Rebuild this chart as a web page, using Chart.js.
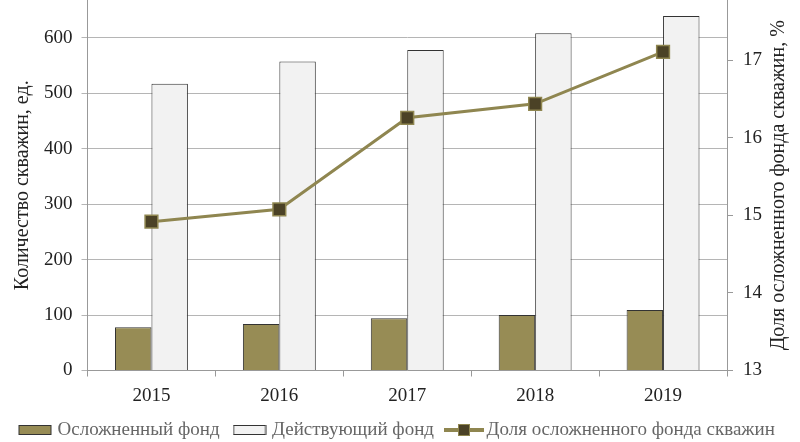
<!DOCTYPE html>
<html>
<head>
<meta charset="utf-8">
<script src="https://cdn.jsdelivr.net/npm/chart.js@4.4.1/dist/chart.umd.min.js"></script>
<style>
body { margin: 0; background: #fff; }
#wrap { width: 800px; height: 442px; }
</style>
</head>
<body>
<div id="wrap"><canvas id="c"></canvas></div>
<script>
var years = ['2015', '2016', '2017', '2018', '2019']
var complicated = [78, 84, 94, 100, 109]
var active = [517, 557, 578, 608, 639]
var share = [14.92, 15.08, 16.26, 16.44, 17.11]
var leftTicks = [0, 100, 200, 300, 400, 500, 600]
var rightTicks = [13, 14, 15, 16, 17]

var olive = '#978c55'
var lineOlive = '#8f8650'
var markDark = '#4b4226'
var txt = '#222'
var serif = '"Liberation Serif", "Times New Roman", serif'
var rightTitleText = 'Доля осложненного фонда скважин, %'

// little pictures for the legend
function icon(kind) {
    var c = document.createElement('canvas')
    c.width = kind == 'line' ? 40 : 34
    c.height = 12
    var g = c.getContext('2d')
    if (kind == 'line') {
        g.strokeStyle = lineOlive
        g.lineWidth = 4
        g.beginPath(); g.moveTo(0, 6); g.lineTo(40, 6); g.stroke()
        g.fillStyle = markDark
        g.fillRect(14.5, 0.5, 11, 11)
        g.lineWidth = 1
        g.strokeRect(14.5, 0.5, 11, 11)
    } else {
        g.fillStyle = kind == 'olive' ? olive : '#f2f2f2'
        g.fillRect(1, 1.5, 32, 9)
        g.strokeStyle = '#333'
        g.lineWidth = 1
        g.strokeRect(1, 1.5, 32, 9)
    }
    return c
}
var icons = [icon('olive'), icon('white'), icon('line')]

// chart.js puts a right title reading downwards, the picture reads upwards
var rightTitle = {
    id: 'rightTitle',
    afterDraw: function(chart) {
        var ctx = chart.ctx
        var s = chart.scales.y1
        ctx.save()
        ctx.translate(s.right - 21, (chart.chartArea.top + chart.chartArea.bottom) / 2)
        ctx.rotate(-Math.PI / 2)
        ctx.font = '20px ' + serif
        ctx.fillStyle = txt
        ctx.textAlign = 'center'
        ctx.textBaseline = 'middle'
        ctx.fillText(rightTitleText, 0, 0)
        ctx.restore()
    }
}

function noPad(scale) {
    scale.paddingTop = 0
    scale.paddingBottom = 0
}

var ctx = document.getElementById('c').getContext('2d')
window.myChart = new Chart(ctx, {
    type: 'bar',
    data: {
        labels: years,
        datasets: [{
            label: 'Осложненный фонд',
            data: complicated,
            backgroundColor: olive,
            borderColor: '#333',
            borderWidth: 1,
            categoryPercentage: 0.57,
            barPercentage: 1,
            yAxisID: 'y',
            order: 1
        }, {
            label: 'Действующий фонд',
            data: active,
            backgroundColor: '#f2f2f2',
            borderColor: '#333',
            borderWidth: 1,
            categoryPercentage: 0.57,
            barPercentage: 1,
            yAxisID: 'y',
            order: 1
        }, {
            type: 'line',
            label: 'Доля осложненного фонда скважин',
            data: share,
            borderColor: lineOlive,
            borderWidth: 3,
            pointStyle: 'rect',
            pointRadius: 9,
            pointBackgroundColor: markDark,
            pointBorderColor: lineOlive,
            pointBorderWidth: 1.5,
            tension: 0,
            yAxisID: 'y1',
            order: 0
        }]
    },
    options: {
        responsive: true,
        maintainAspectRatio: false,
        animation: false,
        layout: { autoPadding: false, padding: { left: 5, right: 0, top: 0, bottom: -7.5 } },
        plugins: {
            tooltip: { enabled: false },
            legend: {
                position: 'bottom',
                align: 'start',
                // empty title, only adds 2px above the items
                title: { display: true, text: '', font: { size: 1 }, padding: { top: 0, bottom: 0.8 } },
                labels: {
                    usePointStyle: true,
                    pointStyleWidth: 26,
                    boxHeight: 12,
                    padding: 17,
                    color: txt,
                    font: { family: serif, size: 19 },
                    generateLabels: function(chart) {
                        return chart.data.datasets.map(function(d, i) {
                            return {
                                text: d.label,
                                pointStyle: icons[i],
                                fillStyle: 'transparent',
                                strokeStyle: 'transparent',
                                lineWidth: 0,
                                hidden: false,
                                datasetIndex: i
                            }
                        })
                    }
                }
            }
        },
        scales: {
            x: {
                afterFit: function(scale) { scale.height = 31 },
                grid: { offset: true, drawOnChartArea: false, tickLength: 6, color: '#999' },
                border: { color: '#999' },
                ticks: { color: txt, font: { family: serif, size: 19 }, padding: 8 }
            },
            y: {
                position: 'left',
                min: 0,
                max: 668,
                afterBuildTicks: function(scale) {
                    scale.ticks = leftTicks.map(function(v) { return { value: v } })
                },
                afterFit: noPad,
                grid: { color: '#b5b5b5', tickLength: 6 },
                border: { color: '#999' },
                ticks: { color: txt, font: { family: serif, size: 19 }, padding: 9 },
                title: {
                    display: true,
                    text: 'Количество скважин, ед.',
                    color: txt,
                    font: { family: serif, size: 20 },
                    padding: { top: 6, bottom: 0 }
                }
            },
            y1: {
                position: 'right',
                min: 13,
                max: 17.78,
                afterBuildTicks: function(scale) {
                    scale.ticks = rightTicks.map(function(v) { return { value: v } })
                },
                afterFit: noPad,
                grid: { drawOnChartArea: false, tickLength: 6, color: '#999' },
                border: { color: '#999' },
                ticks: { color: txt, font: { family: serif, size: 19 }, padding: 10 },
                // keeps the room, the text itself is drawn by rightTitle
                title: {
                    display: true,
                    text: rightTitleText,
                    color: 'rgba(0,0,0,0)',
                    font: { family: serif, size: 20 },
                    padding: { top: 2, bottom: 2 }
                }
            }
        }
    },
    plugins: [rightTitle]
})
</script>
</body>
</html>
